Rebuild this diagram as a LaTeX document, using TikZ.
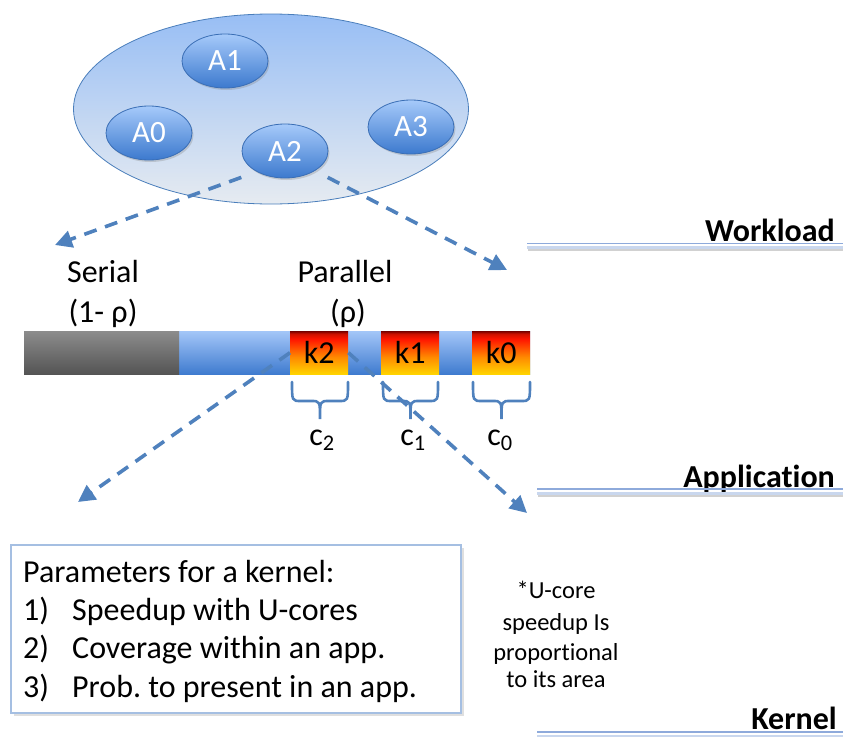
\documentclass[tikz,border=0pt]{standalone}
\usepackage{fontspec}
\setmainfont{Carlito}[Ligatures=NoCommon]
\frenchspacing
\usetikzlibrary{arrows.meta,shapes.geometric,shadows,calc}
\definecolor{obl}{HTML}{4F81BD}
\definecolor{wtop}{HTML}{98BEF4}
\definecolor{wbot}{HTML}{E6EBF1}
\definecolor{wbord}{HTML}{4A7EBB}
\definecolor{atop}{HTML}{A6CAFA}
\definecolor{abot}{HTML}{3C79CE}
\definecolor{abord}{HTML}{3A6EB5}
\definecolor{gtop}{HTML}{8C8C8C}
\definecolor{gbot}{HTML}{545454}
\definecolor{btop}{HTML}{A3C6F8}
\definecolor{bbot}{HTML}{3F7BCF}
\definecolor{kyel}{HTML}{FFD400}
\definecolor{kora}{HTML}{FF8A00}
\definecolor{kred}{HTML}{FF1500}
\definecolor{kdrk}{HTML}{7A0000}
\definecolor{lineA}{HTML}{8EAADB}
\definecolor{lineB}{HTML}{C9D7EE}
\definecolor{pbord}{HTML}{A5BFE2}
\pgfdeclareverticalshading{kgrad}{100bp}{color(0bp)=(kyel); color(25bp)=(kyel); color(45bp)=(kora); color(66bp)=(kred); color(72bp)=(kred!80!black); color(75bp)=(kdrk); color(100bp)=(kdrk)}
\newcommand\mybrace[3]{% xa xb y0
  \draw[brc] (#1,#3) .. controls (#1,#3+19) .. (#1+9,#3+19)
    -- ({(#1+#2)/2-9},#3+19) .. controls ({(#1+#2)/2},#3+19) .. ({(#1+#2)/2},#3+37)
    .. controls ({(#1+#2)/2},#3+19) .. ({(#1+#2)/2+9},#3+19)
    -- (#2-9,#3+19) .. controls (#2,#3+19) .. (#2,#3);}
\newcommand\mylabline[2]{% xa y
  \draw[line width=2pt, black, opacity=0.18] (#1+1,#2+6.5) -- (843,#2+6.5);
  \draw[line width=3pt, lineB] (#1,#2+4) -- (843,#2+4);
  \draw[line width=1.2pt, lineA] (#1,#2) -- (843,#2);}
\begin{document}
\begin{tikzpicture}[x=1pt,y=-1pt,
  app/.style={ellipse, draw=abord, line width=0.8pt, top color=atop, bottom color=abot,
    minimum width=86pt, minimum height=54pt, inner sep=0pt, text=white,
    font=\fontsize{31}{37}\selectfont,
    drop shadow={opacity=0.3, shadow xshift=1.5pt, shadow yshift=-2pt}},
  darr/.style={draw=obl, line width=3.6pt, dash pattern=on 13pt off 9pt,
    -{Triangle[length=17pt,width=17pt]}},
  brc/.style={draw=obl, line width=2.6pt, line cap=round},
  lab/.style={font=\fontsize{32}{38}\selectfont\bfseries, anchor=base east, inner sep=0pt},
  txt/.style={font=\fontsize{32}{38}\selectfont, anchor=base, inner sep=0pt},
  ptxt/.style={font=\fontsize{32}{38}\selectfont, anchor=base west, inner sep=0pt},
  ntxt/.style={font=\fontsize{24.5}{29}\selectfont, anchor=base, inner sep=0pt},
  seg/.style={rectangle, anchor=north west, inner sep=0pt, minimum height=43pt},
  kbox/.style={seg, shade, shading=kgrad, minimum width=58pt, font=\fontsize{32}{38}\selectfont}
]
\useasboundingbox (0,0) rectangle (843,736);

% workload ellipse
\node[ellipse, draw=wbord, line width=0.8pt, top color=wtop, bottom color=wbot,
  minimum width=395pt, minimum height=190pt, inner sep=0pt] (W) at (271,109) {};
\node[app] (A1) at (225,61) {A1};
\node[app] (A0) at (149,133) {A0};
\node[app] (A2) at (285,151) {A2};
\node[app] (A3) at (411,127) {A3};

\coordinate (t1) at (55,245);
\coordinate (t2) at (507,270);
\draw[darr] ($(A2.south west)+(-13,7)$) -- (t1);
\draw[darr] ($(A2.south east)+(12,7)$) -- (t2);

% labels
\node[lab] (wl) at (835,241) {Workload};
\mylabline{527}{243.5}
\node[lab] (al) at (835,487) {Application};
\mylabline{537}{489}
\node[lab] (kl) at (837,729) {Kernel};
\mylabline{537}{732}

% serial / parallel
\node[txt] (ser) at (103,282) {Serial};
\node[txt] (ser2) at (103,322) {(1- ρ)};
\node[txt] (par) at (345,282) {Parallel};
\node[txt] (par2) at (348,322) {(ρ)};

% bar
\node[seg, minimum width=352pt, top color=btop, bottom color=bbot] (pbar) at (178,331) {};
\node[seg, minimum width=155pt, top color=gtop, bottom color=gbot] (sbar) at (24,331) {};
\node[kbox] (k2) at (290,331) {k2};
\node[kbox] (k1) at (381,331) {k1};
\node[kbox] (k0) at (472,331) {k0};

% braces
\mybrace{292}{348}{382}
\mybrace{383}{438}{382}
\mybrace{473}{530}{382}
\node[txt] (c2) at (322,445) {c\textsubscript{2}};
\node[txt] (c1) at (413,445) {c\textsubscript{1}};
\node[txt] (c0) at (500,445) {c\textsubscript{0}};

\coordinate (t3) at (78,502);
\coordinate (t4) at (527,513);
\draw[darr] (k2.west) -- (t3);
\draw[darr] (k2.east) -- (t4);

% parameter box
\node[draw=pbord, line width=2pt, fill=white, anchor=north west,
  minimum width=450pt, minimum height=168pt, inner sep=0pt,
  drop shadow={opacity=0.25, shadow xshift=3pt, shadow yshift=-3pt}] (pb) at (10,544) {};
\node[ptxt] (p0) at (23,582) {Parameters for a kernel:};
\node[ptxt] (n1) at (23,620) {1)};
\node[ptxt] (p1) at (72,620) {Speedup with U-cores};
\node[ptxt] (n2) at (23,658) {2)};
\node[ptxt] (p2) at (72,658) {Coverage within an app.};
\node[ptxt] (n3) at (23,697) {3)};
\node[ptxt] (p3) at (72,697) {Prob. to present in an app.};

% note
\node[ntxt] (u1) at (556,598) {*U-core};
\node[ntxt] (u2) at (556,630) {speedup Is};
\node[ntxt] (u3) at (556,660) {proportional};
\node[ntxt] (u4) at (556,687) {to its area};
\end{tikzpicture}
\end{document}
